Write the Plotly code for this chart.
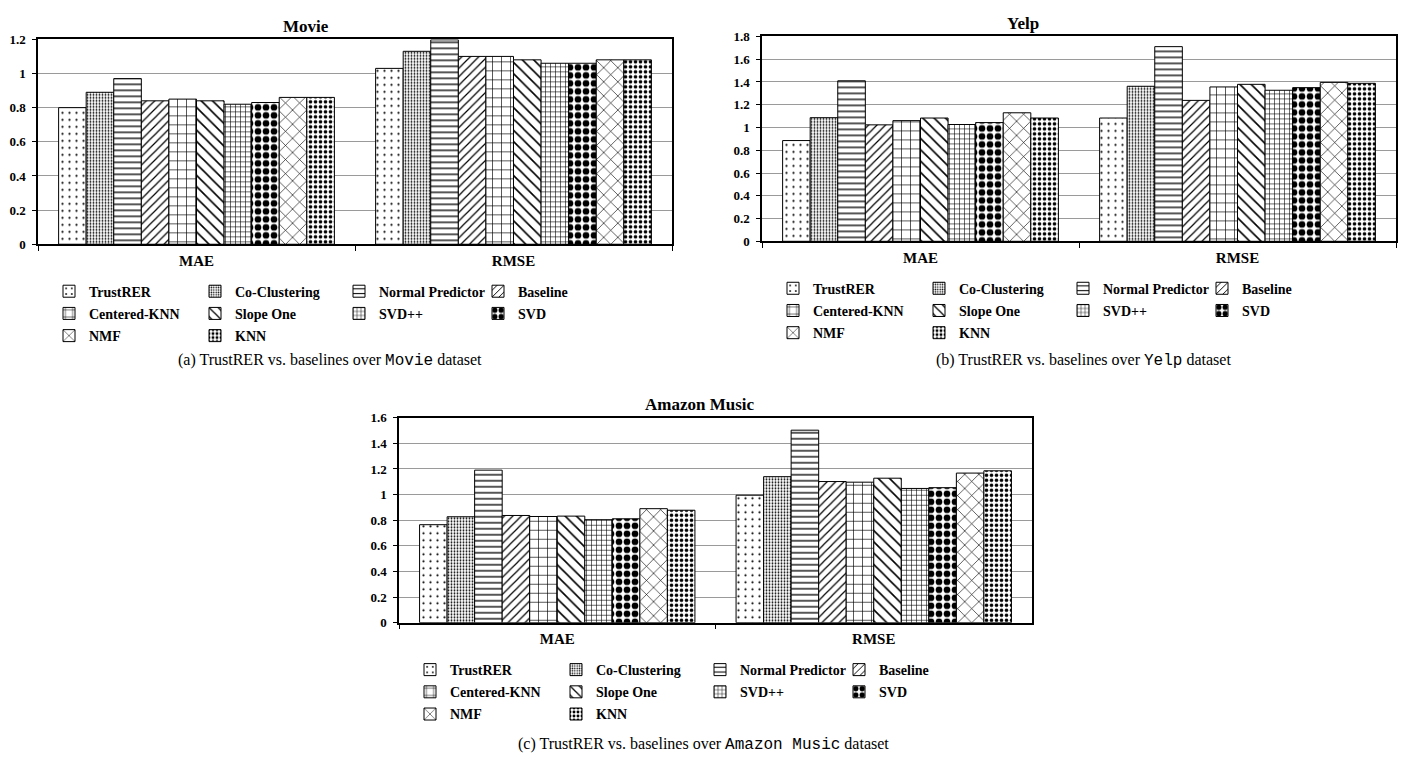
import plotly.graph_objects as go

W, H = 1406, 763

categories = ["MAE", "RMSE"]
methods = ["TrustRER", "Co-Clustering", "Normal Predictor", "Baseline",
           "Centered-KNN", "Slope One", "SVD++", "SVD", "NMF", "KNN"]

movie_mae = [0.80, 0.89, 0.97, 0.84, 0.85, 0.84, 0.82, 0.83, 0.86, 0.86]
movie_rmse = [1.03, 1.13, 1.197, 1.10, 1.10, 1.08, 1.06, 1.06, 1.08, 1.08]
yelp_mae = [0.885, 1.086, 1.41, 1.023, 1.06, 1.083, 1.026, 1.043, 1.129, 1.083]
yelp_rmse = [1.083, 1.362, 1.71, 1.238, 1.356, 1.379, 1.327, 1.35, 1.396, 1.388]
amazon_mae = [0.765, 0.827, 1.191, 0.837, 0.829, 0.832, 0.804, 0.811, 0.89, 0.878]
amazon_rmse = [0.995, 1.14, 1.503, 1.102, 1.097, 1.128, 1.048, 1.054, 1.168, 1.186]

titles = ["Movie", "Yelp", "Amazon Music"]
caption_tags = ["(a)", "(b)", "(c)"]
yticks_max = [1.2, 1.8, 1.6]

# pattern styles for each method
patterns = [
    dict(shape=".", size=7, solidity=0.08),
    dict(shape=".", size=3, solidity=0.3),
    dict(shape="-", size=6, solidity=0.22),
    dict(shape="/", size=6, solidity=0.2),
    dict(shape="+", size=9, solidity=0.14),
    dict(shape="\\", size=8, solidity=0.2),
    dict(shape="+", size=5, solidity=0.22),
    dict(shape=".", size=8, solidity=0.55),
    dict(shape="x", size=10, solidity=0.12),
    dict(shape=".", size=5, solidity=0.42),
]

SERIF = "Liberation Serif, Times New Roman, serif"


def px_x(x):
    return x / W


def px_y(y):
    return 1 - y / H


# plot-area pixel boxes (left, right, top, bottom)
boxes = [(38, 672, 33, 242), (762, 1396, 30, 239), (399, 1032, 419, 628)]
title_pos = [(306, 20), (1023, 17), (700, 405)]
caption_pos = [(330, 361), (1083, 361), (703, 752)]
legend_col_rel = [11, 157, 301, 440]
legend_row_top_rel = 32

panels = [(movie_mae, movie_rmse), (yelp_mae, yelp_rmse), (amazon_mae, amazon_rmse)]

fig = go.Figure()
layout = dict(
    width=W, height=H, margin=dict(l=0, r=0, t=0, b=0),
    paper_bgcolor="white", plot_bgcolor="white",
    barmode="group", bargap=0.13, bargroupgap=0,
    font=dict(family=SERIF, color="black"),
    annotations=[],
    showlegend=True,
)

for p, (mae, rmse) in enumerate(panels):
    ax = "" if p == 0 else str(p + 1)
    l, r, t, b = boxes[p]
    for i, m in enumerate(methods):
        col = i % 4
        lid_n = p * 4 + col + 1
        lid = "legend" if lid_n == 1 else f"legend{lid_n}"
        pat = patterns[i]
        fig.add_trace(go.Bar(
            x=categories, y=[mae[i], rmse[i]], name=m,
            xaxis="x" + ax, yaxis="y" + ax, legend=lid,
            legendgroup=f"p{p}-{m}",
            marker=dict(color="white", line=dict(color="black", width=1),
                        pattern=dict(shape=pat["shape"], size=pat["size"],
                                     solidity=pat["solidity"], fgcolor="black",
                                     bgcolor="white", fillmode="replace")),
            hoverinfo="skip",
        ))
    layout["xaxis" + ax] = dict(
        domain=[px_x(l), px_x(r)], anchor="y" + ax, type="category",
        showline=True, linecolor="black", linewidth=1.5, mirror=True,
        ticks="outside", tickson="boundaries", ticklen=5, tickcolor="black",
        tickfont=dict(family=SERIF, size=15, weight="bold"),
        showgrid=False, ticklabelstandoff=2,
    )
    layout["yaxis" + ax] = dict(
        domain=[px_y(b), px_y(t)], anchor="x" + ax,
        range=[0, yticks_max[p]], dtick=0.2, tick0=0,
        showline=True, linecolor="black", linewidth=1.5, mirror=True,
        ticks="outside", ticklen=4, tickcolor="black",
        tickfont=dict(family=SERIF, size=13, weight="bold"),
        showgrid=True, gridcolor="#9a9a9a", gridwidth=1, zeroline=False,
        ticklabelstandoff=4,
    )
    for col in range(4):
        lid_n = p * 4 + col + 1
        lid = "legend" if lid_n == 1 else f"legend{lid_n}"
        layout[lid] = dict(
            orientation="v", x=px_x(l + legend_col_rel[col]), xanchor="left",
            y=px_y(b + legend_row_top_rel), yanchor="top",
            bgcolor="rgba(0,0,0,0)", borderwidth=0,
            font=dict(family=SERIF, size=14, weight="bold", color="black"),
            itemwidth=30, tracegroupgap=1, traceorder="grouped",
        )
    tx, ty = title_pos[p]
    layout["annotations"].append(dict(
        text="<b>" + titles[p] + "</b>", x=px_x(tx), y=px_y(ty),
        xref="paper", yref="paper", showarrow=False, xanchor="center", yanchor="middle",
        font=dict(family=SERIF, size=17, color="black"),
    ))
    cx, cy = caption_pos[p]
    layout["annotations"].append(dict(
        text=caption_tags[p] + " TrustRER vs. baselines over "
             + "<span style=\"font-family:Liberation Mono,Courier New,monospace\">"
             + titles[p] + "</span> dataset",
        x=px_x(cx), y=px_y(cy), xref="paper", yref="paper", showarrow=False,
        xanchor="center", yanchor="middle",
        font=dict(family=SERIF, size=16, color="black"),
    ))

fig.update_layout(**layout)
fig.write_html("out.html")
